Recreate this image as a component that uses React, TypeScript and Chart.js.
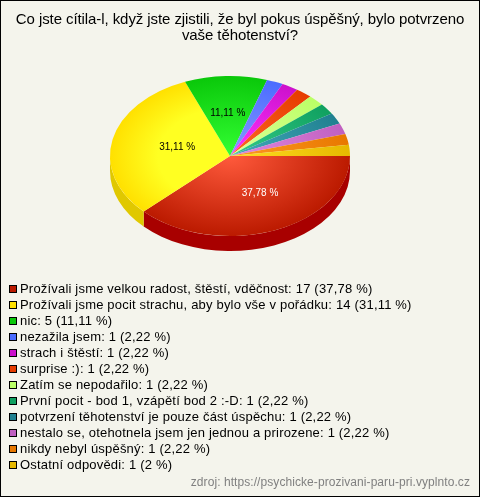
import React, { useEffect, useRef } from "react";
import { Chart, registerables } from "chart.js";

Chart.register(...registerables);

const titleLines = ["Co jste cítila-l, když jste zjistili, že byl pokus úspěšný, bylo potvrzeno", "vaše těhotenství?"];
const categories = [
  "Prožívali jsme velkou radost, štěstí, vděčnost",
  "Prožívali jsme pocit strachu, aby bylo vše v pořádku",
  "nic",
  "nezažila jsem",
  "strach i štěstí",
  "surprise :)",
  "Zatím se nepodařilo",
  "První pocit - bod 1, vzápětí bod 2 :-D",
  "potvrzení těhotenství je pouze část úspěchu",
  "nestalo se, otehotnela jsem jen jednou a prirozene",
  "nikdy nebyl úspěšný",
  "Ostatní odpovědi",
];
const counts = [17, 14, 5, 1, 1, 1, 1, 1, 1, 1, 1, 1];
const percentTexts = ["37,78 %", "31,11 %", "11,11 %", "2,22 %", "2,22 %", "2,22 %", "2,22 %", "2,22 %", "2,22 %", "2,22 %", "2,22 %", "2 %"];
const edgeColors = ["#bb1a00", "#ffe000", "#0ac80a", "#4a6cff", "#cc11cc", "#e63c00", "#bbff66", "#10a060", "#208090", "#c060c0", "#e87800", "#e6b800"];
const centerColors = ["#ff5a3c", "#ffff22", "#33ff33", "#8899ff", "#ff33ff", "#ff6622", "#ddff99", "#33cc88", "#44aabb", "#e088e0", "#ff9922", "#ffdd22"];
const sideColors = ["#a80000", "#e0c800", "#0a9a0a", "#3050c0", "#a000a0", "#b03000", "#90c050", "#0a8048", "#186070", "#904890", "#b05c00", "#b89000"];
const labelColors = ["#ffffff", "#000000", "#000000"];
const labelRadiusX = [0.667, 0.45, 0.54];
const labelRadiusY = [0.5, 0.54, 0.54];
const sourceText = "zdroj: https://psychicke-prozivani-paru-pri.vyplnto.cz";

const FONT = "Arial, 'Liberation Sans', sans-serif";
const SQUASH = 2 / 3;
const DEPTH = 15;

const pie3d = {
  id: "pie3d",
  beforeDatasetsDraw(chart: any) {
    const { ctx } = chart;
    const arcs = chart.getDatasetMeta(0).data;
    const { x: cx, y: cy } = arcs[0];
    ctx.save();
    ctx.translate(cx, cy);
    ctx.scale(1, SQUASH);
    ctx.translate(-cx, -cy);
    const d = DEPTH / SQUASH;
    arcs.forEach((a: any, i: number) => {
      const s = Math.max(a.startAngle, 0);
      const e = Math.min(a.endAngle, Math.PI);
      if (e <= s) return;
      ctx.beginPath();
      ctx.arc(cx, cy, a.outerRadius, s, e);
      ctx.arc(cx, cy + d, a.outerRadius, e, s, true);
      ctx.closePath();
      ctx.fillStyle = sideColors[i];
      ctx.fill();
    });
  },
  afterDatasetsDraw(chart: any) {
    const { ctx } = chart;
    ctx.restore();
    const arcs = chart.getDatasetMeta(0).data;
    ctx.save();
    ctx.font = `10px ${FONT}`;
    ctx.textAlign = "center";
    ctx.textBaseline = "middle";
    labelColors.forEach((color, i) => {
      const a = arcs[i];
      const mid = (a.startAngle + a.endAngle) / 2;
      ctx.fillStyle = color;
      ctx.fillText(
        percentTexts[i],
        a.x + Math.cos(mid) * a.outerRadius * labelRadiusX[i],
        a.y + Math.sin(mid) * a.outerRadius * SQUASH * labelRadiusY[i]
      );
    });
    ctx.restore();
  },
  afterDraw(chart: any) {
    const { ctx, width, height } = chart;
    ctx.save();
    ctx.font = `15px ${FONT}`;
    ctx.letterSpacing = "-0.08px";
    ctx.textBaseline = "middle";
    ctx.textAlign = "center";
    ctx.fillStyle = "#000";
    titleLines.forEach((line, i) => ctx.fillText(line, 240, 20 + i * 16));
    ctx.font = `13px ${FONT}`;
    ctx.letterSpacing = "0.19px";
    ctx.textAlign = "left";
    categories.forEach((name, i) => {
      const y = 285 + i * 16;
      ctx.fillStyle = edgeColors[i];
      ctx.fillRect(9.5, y + 0.5, 7, 7);
      ctx.strokeStyle = "#000";
      ctx.lineWidth = 1;
      ctx.strokeRect(9.5, y + 0.5, 7, 7);
      ctx.fillStyle = "#000";
      ctx.fillText(`${name}: ${counts[i]} (${percentTexts[i]})`, 20, y + 4);
    });
    ctx.letterSpacing = "0.07px";
    ctx.font = `12px ${FONT}`;
    ctx.fillStyle = "#808080";
    ctx.textAlign = "right";
    ctx.fillText(sourceText, 470, 483);
    ctx.letterSpacing = "0px";
    ctx.strokeStyle = "#000";
    ctx.lineWidth = 1;
    ctx.strokeRect(0.5, 0.5, width - 1, height - 1);
    ctx.restore();
  },
};

export default function App() {
  const ref = useRef<HTMLCanvasElement>(null);
  useEffect(() => {
    document.body.style.margin = "0";
    const chart = new Chart(ref.current!, {
      type: "pie",
      data: {
        labels: categories,
        datasets: [
          {
            data: counts,
            borderWidth: 0,
            backgroundColor: (c: any) => {
              const area = c.chart.chartArea;
              if (!area) return edgeColors[c.dataIndex];
              const cx = (area.left + area.right) / 2;
              const cy = (area.top + area.bottom) / 2;
              const g = c.chart.ctx.createRadialGradient(cx, cy, 0, cx, cy, 120);
              g.addColorStop(0, centerColors[c.dataIndex]);
              g.addColorStop(0.6, centerColors[c.dataIndex]);
              g.addColorStop(1, edgeColors[c.dataIndex]);
              return c.dataIndex === 1 ? g : (() => {
                const h = c.chart.ctx.createRadialGradient(cx, cy, 0, cx, cy, 120);
                h.addColorStop(0, centerColors[c.dataIndex]);
                h.addColorStop(1, edgeColors[c.dataIndex]);
                return h;
              })();
            },
          },
        ],
      },
      options: {
        responsive: false,
        animation: false,
        rotation: 90,
        layout: { padding: { left: 110, right: 130, top: 36, bottom: 221 } },
        plugins: {
          legend: { display: false },
          tooltip: { enabled: false },
          title: { display: false },
        },
      },
      plugins: [pie3d],
    } as any);
    return () => chart.destroy();
  }, []);
  return (
    <div style={{ width: 480, height: 497, background: "#f4f4ec" }}>
      <canvas ref={ref} width={480} height={497} style={{ display: "block" }} />
    </div>
  );
}
